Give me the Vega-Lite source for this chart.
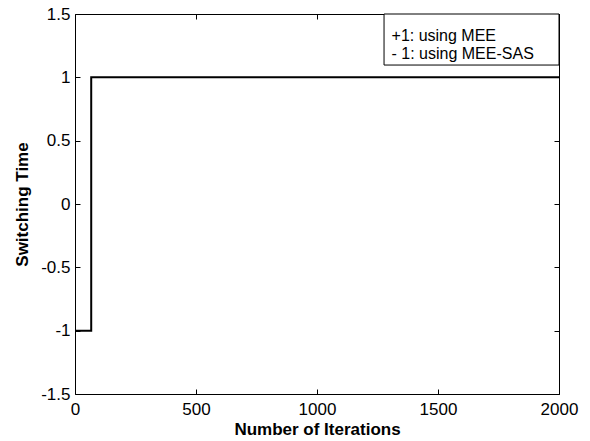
{
  "$schema": "https://vega.github.io/schema/vega-lite/v6.json",
  "width": 484,
  "height": 380,
  "autosize": {"type": "none"},
  "padding": {"left": 75, "top": 14, "right": 31, "bottom": 47},
  "background": "white",
  "config": {
    "view": {"stroke": "black", "strokeWidth": 1},
    "font": "Liberation Sans",
    "axis": {
      "grid": false,
      "domain": false,
      "zindex": 1,
      "tickColor": "black",
      "tickSize": -5,
      "labelColor": "black",
      "labelFont": "Liberation Sans",
      "labelFontSize": 17,
      "labelFlush": false,
      "labelOverlap": false,
      "titleFont": "Liberation Sans",
      "titleFontSize": 17,
      "titleFontWeight": "bold",
      "titleColor": "black"
    }
  },
  "datasets": {
    "series": [
      {"iter": 0, "value": -1},
      {"iter": 67, "value": 1},
      {"iter": 2000, "value": 1}
    ],
    "legend": [
      {"x1": 1277, "x2": 2000, "y1": 1.097, "y2": 1.5}
    ],
    "legendText": [
      {"tx": 1308, "ty": 1.289, "label": "+1: using MEE"},
      {"tx": 1308, "ty": 1.145, "label": "- 1: using MEE-SAS"}
    ]
  },
  "layer": [
    {
      "data": {"name": "legend"},
      "mark": {"type": "rect", "fill": "white", "stroke": "black", "strokeWidth": 1},
      "encoding": {
        "x": {"field": "x1", "type": "quantitative",
          "scale": {"domain": [0, 2000], "nice": false},
          "axis": {"orient": "top", "values": [0, 500, 1000, 1500, 2000], "labels": false, "title": null}},
        "x2": {"field": "x2"},
        "y": {"field": "y1", "type": "quantitative",
          "scale": {"domain": [-1.5, 1.5], "nice": false, "zero": false},
          "axis": {"orient": "right", "values": [-1.5, -1, -0.5, 0, 0.5, 1, 1.5], "labels": false, "title": null}},
        "y2": {"field": "y2"}
      }
    },
    {
      "data": {"name": "series"},
      "mark": {"type": "line", "interpolate": "step-after", "color": "black", "strokeWidth": 2},
      "encoding": {
        "x": {
          "field": "iter", "type": "quantitative",
          "axis": {"orient": "bottom", "values": [0, 500, 1000, 1500, 2000], "title": "Number of Iterations", "labelPadding": 12, "titlePadding": 4, "labelExpr": "datum.value + ''"}
        },
        "y": {
          "field": "value", "type": "quantitative",
          "axis": {"orient": "left", "values": [-1.5, -1, -0.5, 0, 0.5, 1, 1.5], "title": "Switching Time", "labelPadding": 10, "titlePadding": 9, "labelExpr": "datum.value + ''"}
        }
      }
    },
    {
      "data": {"name": "legendText"},
      "mark": {"type": "text", "align": "left", "baseline": "alphabetic", "font": "Liberation Sans", "fontSize": 16, "color": "black"},
      "encoding": {
        "x": {"field": "tx", "type": "quantitative", "axis": null},
        "y": {"field": "ty", "type": "quantitative", "axis": null},
        "text": {"field": "label"}
      }
    }
  ],
  "resolve": {"axis": {"x": "independent", "y": "independent"}}
}
